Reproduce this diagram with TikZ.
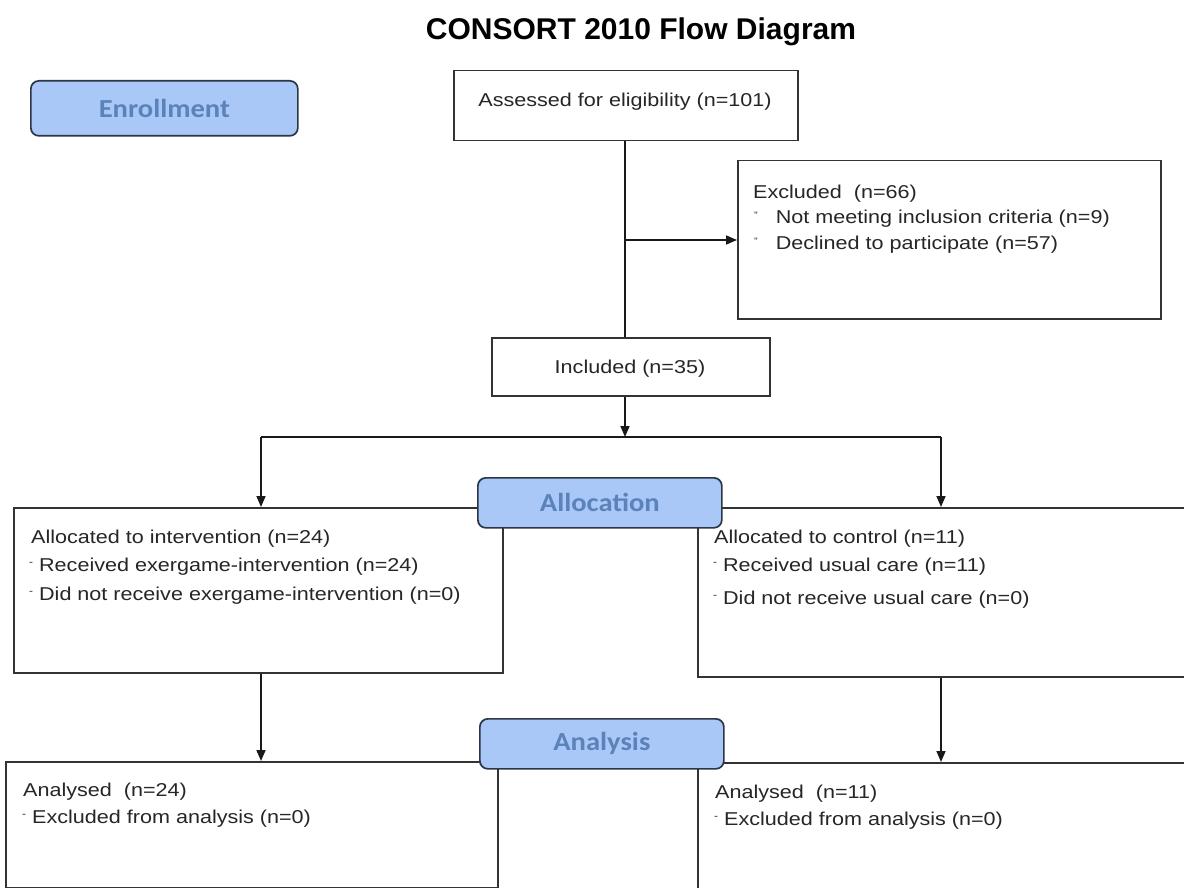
\documentclass[tikz,border=0pt]{standalone}
\usepackage{fontspec}
\setmainfont[FakeStretch=1.16]{Liberation Sans}
\newfontfamily\titlefont{Liberation Sans}
\newfontfamily\phasefont[FakeStretch=1.1]{Carlito}
\usetikzlibrary{arrows.meta}
\definecolor{phasefill}{HTML}{A9C7F7}
\definecolor{phasetext}{HTML}{5A83B9}
\definecolor{phaseline}{HTML}{2B3646}
\definecolor{boxline}{HTML}{333333}
\newcommand{\bul}{\raisebox{0.55ex}{\scalebox{0.55}{-}}}
\newcommand{\bulb}{\raisebox{0.45ex}{\scalebox{0.5}{"}}}
\begin{document}
\begin{tikzpicture}[x=1pt,y=-1pt,
  box/.style={draw=boxline, line width=1.5pt, fill=white, inner sep=0, anchor=north west},
  phase/.style={draw=phaseline, line width=1.7pt, fill=phasefill, rounded corners=8pt, inner sep=0,
    anchor=north west, font=\phasefont\bfseries\fontsize{26}{28}\selectfont, text=phasetext},
  txt/.style={anchor=base west, inner sep=0, font=\fontsize{18.6}{21}\selectfont, text=black!85},
  ctxt/.style={anchor=base, inner sep=0, font=\fontsize{18.6}{21}\selectfont, text=black!85},
  conn/.style={draw=black!90, line width=1.6pt},
  arr/.style={conn, -{Triangle[length=11pt,width=9pt]}}
]
\useasboundingbox (0,0) rectangle (1184,888);
\fill[white] (0,0) rectangle (1184,888);

\node[inner sep=0, anchor=base, font=\titlefont\bfseries\fontsize{30}{34}\selectfont] (title) at (641,40) {CONSORT 2010 Flow Diagram};

% boxes
\node[box, minimum width=344pt, minimum height=70pt] (assess) at (453,70) {};
\node[box, minimum width=423pt, minimum height=158pt] (excl) at (737,160) {};
\node[box, minimum width=278pt, minimum height=58pt] (incl) at (491,337) {};
\node[box, minimum width=489pt, minimum height=165pt] (allocI) at (13,507) {};
\node[box, minimum width=490pt, minimum height=169pt] (allocC) at (697,507) {};
\node[box, minimum width=492pt, minimum height=126pt] (anaI) at (5,761) {};
\node[box, minimum width=490pt, minimum height=126pt] (anaC) at (697,762) {};

% phase labels
\node[phase, minimum width=267pt, minimum height=55pt] (enr) at (30,80) {Enrollment};

% texts
\node[ctxt] (t1) at (625,107) {Assessed for eligibility (n=101)};
\node[txt] (t2) at (753,198) {Excluded\ \ (n=66)};
\node[txt] (t3) at (754,223) {\bulb\ \ \ Not meeting inclusion criteria (n=9)};
\node[txt] (t4) at (754,249) {\bulb\ \ \ Declined to participate (n=57)};
\node[ctxt] (t5) at (630,373) {Included (n=35)};
\node[txt] (t6) at (31,543) {Allocated to intervention (n=24)};
\node[txt] (t7) at (29,571) {\bul\ Received exergame-intervention (n=24)};
\node[txt] (t8) at (29,600) {\bul\ Did not receive exergame-intervention (n=0)};
\node[txt] (t9) at (714,543) {Allocated to control (n=11)};
\node[txt] (t10) at (713,571) {\bul\ Received usual care (n=11)};
\node[txt] (t11) at (713,604) {\bul\ Did not receive usual care (n=0)};
\node[txt] (t12) at (23,796) {Analysed\ \ (n=24)};
\node[txt] (t13) at (22,823) {\bul\ Excluded from analysis (n=0)};
\node[txt] (t14) at (715,798) {Analysed\ \ (n=11)};
\node[txt] (t15) at (714,825) {\bul\ Excluded from analysis (n=0)};

% connectors
\coordinate (jx) at (625,240);
\coordinate (split) at (625,437);
\coordinate (sL) at (261,437);
\coordinate (sR) at (941,437);
\draw[conn] (assess.south -| jx) -- (incl.north -| jx);
\draw[arr] (jx) -- (jx -| excl.west);
\draw[arr] (incl.south -| split) -- (split);
\draw[conn] (sL) -- (sR);
\draw[arr] (sL) -- (sL |- allocI.north);
\draw[arr] (sR) -- (sR |- allocC.north);
\draw[arr] (allocI.south -| sL) -- (sL |- anaI.north);
\draw[arr] (allocC.south -| sR) -- (sR |- anaC.north);

% phase labels on top of the boxes
\node[phase, minimum width=244pt, minimum height=50pt] (alloc) at (477,477) {Allocation};
\node[phase, minimum width=244pt, minimum height=50pt] (ana) at (479,718) {Analysis};
\end{tikzpicture}
\end{document}
